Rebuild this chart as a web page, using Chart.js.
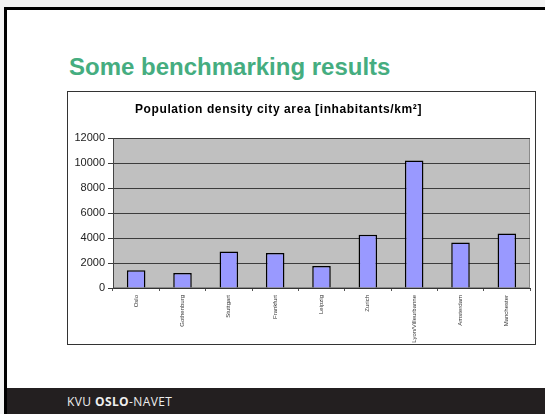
<!DOCTYPE html>
<html>
<head>
<meta charset="utf-8">
<script src="https://cdn.jsdelivr.net/npm/chart.js@4"></script>
<style>
  body { margin: 0; width: 545px; height: 414px; background: #f3f3f3; overflow: hidden; position: relative; font-family: "Liberation Sans", Arial, sans-serif; }
  #slide { position: absolute; left: 4px; top: 7px; width: 539px; height: 404px; background: #fff; border-top: 3px solid #000; border-left: 3px solid #000; border-right: 1px solid #e2e2e2; }
  #heading { position: absolute; left: 69px; top: 55px; font-size: 24px; line-height: 24px; font-weight: bold; color: #45ad80; white-space: nowrap; }
  #box { position: absolute; left: 67px; top: 91px; width: 469px; height: 254px; border: 1px solid #333; box-sizing: border-box; background: #fff; }
  #chartTitle { position: absolute; left: 135px; top: 102px; font-size: 12px; line-height: 14px; letter-spacing: 0.6px; font-weight: bold; color: #000; white-space: nowrap; }
  #footer { position: absolute; left: 7px; top: 388px; width: 538px; height: 26px; background: #231f20; }
  #footer span { position: absolute; left: 60px; top: 6px; font-family: "Open Sans", sans-serif; font-size: 12px; line-height: 15px; letter-spacing: 0.4px; color: #eee; white-space: nowrap; }
</style>
</head>
<body>
<div id="slide"></div>
<div id="heading">Some benchmarking results</div>
<div id="box"><canvas id="densityChart" width="467" height="252"></canvas></div>
<div id="chartTitle">Population density city area [inhabitants/km²]</div>
<div id="footer"><span>KVU <b>OSLO</b>-NAVET</span></div>
<script>
const cities = ['Oslo', 'Gothenburg', 'Stuttgart', 'Frankfurt', 'Leipzig', 'Zurich', 'Lyon/Villeurbanne', 'Amsterdam', 'Manchester'];
const density = [1420, 1200, 2920, 2810, 1770, 4260, 10200, 3640, 4370];
const yMax = 12000;
const yStep = 2000;

// grey plot area like the old Excel charts
const plotBg = {
    id: 'plotBg',
    beforeDraw(chart) {
        const a = chart.chartArea;
        const ctx = chart.ctx;
        ctx.save();
        ctx.fillStyle = '#c0c0c0';
        ctx.fillRect(a.left, a.top, a.right - a.left, a.bottom - a.top);
        ctx.strokeStyle = '#8a8a8a';
        ctx.lineWidth = 1;
        ctx.strokeRect(a.left + 0.5, a.top + 0.5, a.right - a.left - 1, a.bottom - a.top - 1);
        ctx.restore();
    }
};

const ctx = document.getElementById('densityChart').getContext('2d');
new Chart(ctx, {
    type: 'bar',
    data: {
        labels: cities,
        datasets: [{
            data: density,
            backgroundColor: '#9999ff',
            borderColor: '#000',
            borderWidth: 1.5,
            barPercentage: 0.4,
            categoryPercentage: 1
        }]
    },
    options: {
        responsive: false,
        animation: false,
        devicePixelRatio: 1,
        layout: { padding: { top: 46, right: 5, left: 0, bottom: 0 } },
        plugins: { legend: { display: false }, tooltip: { enabled: false } },
        scales: {
            x: {
                afterFit(scale) { scale.height = 56; },
                grid: { drawOnChartArea: false, drawTicks: true, tickLength: 3, color: '#555' },
                border: { display: true, color: '#333' },
                ticks: {
                    autoSkip: false, minRotation: 90, maxRotation: 90, padding: 4,
                    color: '#333', font: { family: 'Liberation Sans Narrow, Liberation Sans', size: 6 }
                }
            },
            y: {
                min: 0, max: yMax,
                afterFit(scale) { scale.width = 45; },
                grid: { color: '#3c3c3c', tickLength: 5 },
                border: { display: true, color: '#444' },
                ticks: {
                    stepSize: yStep, padding: 3,
                    callback: v => String(v),
                    color: '#222', font: { family: 'Liberation Sans', size: 11 }
                }
            }
        }
    },
    plugins: [plotBg]
});
</script>
</body>
</html>
